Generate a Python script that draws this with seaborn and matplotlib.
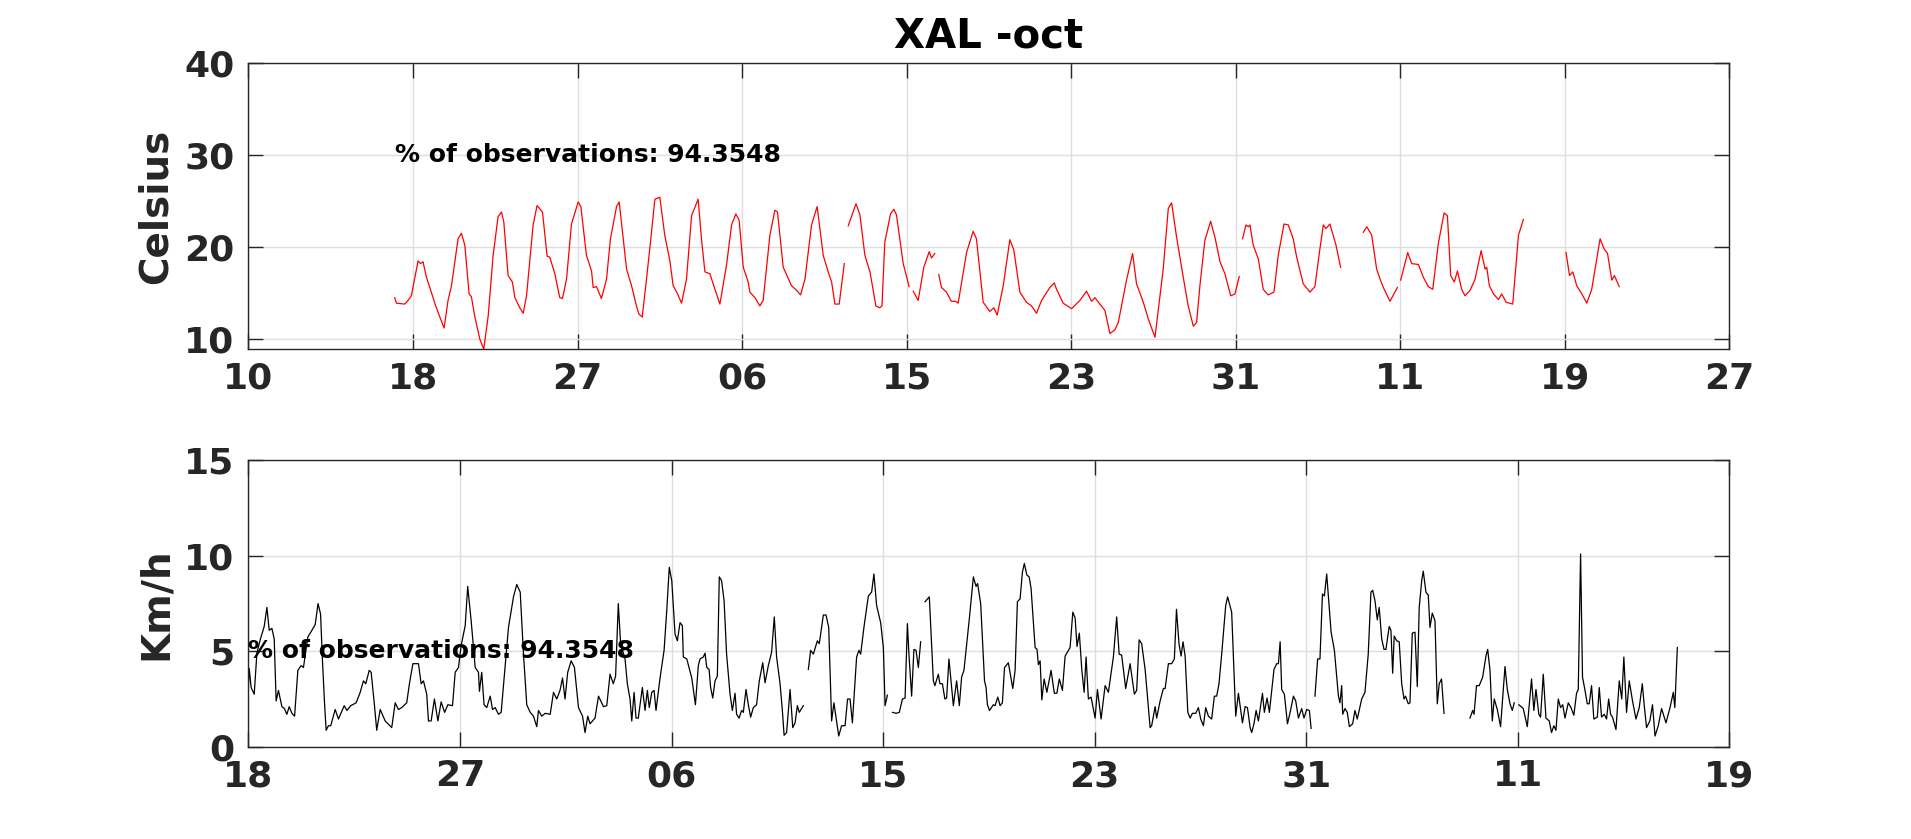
import numpy as np
import pandas as pd
import matplotlib
matplotlib.use('Agg')
import matplotlib.pyplot as plt
import seaborn as sns

TITLE = 'XAL -oct'
OBS_PCT = 94.3548
TEMP_LABEL = 'Celsius'
WIND_LABEL = 'Km/h'

# tick labels as printed under each panel (evenly spaced)
top_tick_labels = ['10', '18', '27', '06', '15', '23', '31', '11', '19', '27']
bottom_tick_labels = ['18', '27', '06', '15', '23', '31', '11', '19']
top_tick_step = 100
bottom_tick_step = 110

# temperature, hours on the top axis; nan = gap in the record
temp_hour = [
    88.9, 89.9, 95, 97, 99, 103.1, 104.5, 106.1, 108.2, 112.2, 113.8, 116.3, 118.9, 121.3, 123.4,
    127.4, 129.4, 131.5, 134.1, 135.5, 137.5, 140.6, 143, 145.7, 148.7, 151.7, 153.8, 155.2, 157.8,
    160.4, 161.9, 164.9, 167, 169, 173, 175.4, 178.7, 181.5, 183.1, 186.2, 189.2, 190.8, 193.3,
    196.3, 200.4, 202, 205.4, 208.5, 209.5, 211.5, 214.5, 217.6, 220, 223.7, 225.3, 229.8, 232.8,
    235.8, 237.3, 239.3, 241.9, 244.3, 247, 250, 253, 256.1, 258.1, 260.8, 263.2, 266.2, 269.3,
    273.3, 275.3, 277.4, 280.4, 283.5, 286.5, 290.5, 293.6, 296.2, 298.2, 300.7, 303.7, 304.7,
    307.8, 310.8, 312.8, 316.9, 319.9, 321.5, 325, 330, 333.1, 335.5, 338.2, 342.2, 345.6, 349.3,
    352.3, 354.4, 356.4, 359, 362.1, np.nan,
    364.5, 369.2, 371.6, 374.6, 377.7, 381.3, 383.6, 385, 386.7, 390.2, 392.2, 393.8, 397.9, 401.5, np.nan,
    404, 407, 410.4, 413.7, 415.1, 417.1, np.nan,
    419.5, 421.2, 424.2, 427.2, 429.9, 431.3, 436.4, 440.4, 442.4, 446.5, 450.5, 453, 455, 458.7,
    462.7, 465.1, 468.8, 472.8, 475.9, 478.9, 482, 487, 489.7, 491.1, 495.1, 500.2, 505.3, 509.3,
    512.4, 514.4, 517.4, 520.5, 523.5, 526.5, 528.6, 533.6, 537.3, 539.7, 543.8, 546.8, 550.9,
    555.9, 559, 561, 564, 568.1, 571.1, 574.2, 576.2, 578.2, 581.2, 584.7, 587.3, 590.4, 593.4,
    596.9, 599.5, 602.1, np.nan,
    604.1, 606.2, 607.6, 608.6, 610.6, 613.7, 616.7, 619.7, 623.2, 625.8, 629.3, 631.9, 634.9, 637,
    641, 645.1, 648.1, 650.8, 653.2, 654.8, 657.2, 660.9, 663.7, np.nan,
    677.5, 679.6, 682.6, 685.6, 687.7, 689.7, 693.7, 698.2, np.nan,
    700.2, 704.5, 706.9, 711, 714, 717, 719.7, 723.1, 726.6, 728.6, 730.6, 732.8, 734.7, 737.3,
    739.3, 742.4, 745.4, 749.1, 751.5, 752.5, 754.1, 756.6, 759.6, 761.6, 764.3, 768.3, 771.8, 774.8, np.nan,
    800.7, 802.8, 804.8, 807.2, 810.3, 813.3, 816.3, 821.4, 823.8, 825.9, 828.5, 830.1, 833,
]
temp_c = [
    14.5, 13.9, 13.8, 14.2, 14.7, 18.5, 18.2, 18.4, 16.7, 14.5, 13.6, 12.4, 11.2, 14.2, 15.8,
    20.9, 21.5, 20.2, 14.9, 14.6, 12.5, 10, 8.9, 12.5, 19.1, 23.3, 23.8, 22.7, 16.9,
    16.2, 14.5, 13.4, 12.8, 14.7, 22.4, 24.5, 23.8, 19, 18.9, 17.1, 14.5, 14.4, 16.5,
    22.5, 24.9, 24.4, 19.1, 17.4, 15.6, 15.7, 14.4, 16.5, 20.9, 24.4, 24.9, 17.6, 15.8,
    13.6, 12.7, 12.4, 16.5, 20.5, 25.2, 25.4, 21.3, 18.5, 15.8, 14.9, 13.9, 16.5, 23.4,
    25.2, 20.9, 17.3, 17.1, 15.4, 13.8, 18, 22.4, 23.6, 22.9, 17.8, 16.2, 15.1,
    14.5, 13.6, 14.2, 21.3, 24, 23.8, 17.8, 15.8, 15.3, 14.8, 16.5, 22.4, 24.4, 19.1,
    17.3, 16.2, 13.8, 13.8, 18.2, np.nan,
    22.3, 24.7, 23.5, 19.1, 17.3, 13.6, 13.4, 13.6, 20.5, 23.6, 24.1, 23.5, 18.2, 15.7, np.nan,
    15.2, 14.2, 17.8, 19.5, 18.8, 19.3, np.nan,
    17, 15.6, 15.1, 14.1, 14.1, 13.9, 19.4, 21.7, 20.9, 14, 13, 13.4, 12.6, 15.8,
    20.8, 19.7, 15.1, 14, 13.6, 12.8, 14.2, 15.6, 16.1, 15.4, 13.9, 13.3, 14.2, 15.2,
    14.1, 14.5, 13.8, 13.1, 10.6, 11, 11.8, 16.4, 19.3, 16, 14, 12.2, 10.2,
    17.6, 24.2, 24.8, 21.1, 16.7, 13.6, 11.4, 11.8, 15.8, 20.7, 22.8, 21.1, 18.4, 17.1,
    14.7, 14.9, 16.8, np.nan,
    20.9, 22.4, 22.2, 22.4, 20.2, 18.7, 15.4, 14.8, 15.1, 19.1, 22.5, 22.4, 20.9, 18.9,
    16, 15.1, 15.7, 19.4, 22.4, 22, 22.5, 20.2, 17.8, np.nan,
    21.6, 22.2, 21.3, 17.6, 16.5, 15.6, 14.1, 15.6, np.nan,
    16.4, 19.4, 18.2, 18.1, 16.7, 15.7, 15.4, 20.4, 23.7, 23.4, 16.9, 16.2, 17.4, 15.4,
    14.7, 15.3, 16.5, 19.6, 17.6, 17.8, 15.8, 14.9, 14.3, 14.9, 14, 13.8, 21.3, 23, np.nan,
    19.4, 16.9, 17.3, 15.8, 14.9, 13.9, 15.4, 20.9, 19.8, 19.3, 16.4, 16.9, 15.7,
]

# wind speed, hours on the bottom axis; nan = gap in the record
wind_hour = [
    0, 0.4, 1.4, 3, 4.4, 6.1, 8.2, 9.6, 10.8, 12.2, 13.4, 14.4, 15.6, 17.4, 18.7, 20, 21.2, 22.6,
    24, 25.7, 27.4, 28.6, 30.9, 33, 34.7, 36.2, 37.5, 38.5, 39.5, 40.4, 41.6, 42.8, 45.1, 46.8,
    49.8, 51.2, 53.2, 56, 58.1, 59.8, 61, 62.8, 63.8, 65.5, 66.7, 68.5, 71.1, 74.5, 76.3, 78,
    79.7, 82.3, 83.7, 85.5, 88.4, 89.8, 91, 92.7, 93.6, 95, 96.7, 98.5, 100.2, 102, 103.7, 106.1,
    107.5, 109.2, 110.6, 112.7, 114, 115.8, 117.9, 119.6, 120.1, 121.3, 122.5, 123.9, 125.7,
    126.9, 128.3, 130, 131.4, 135.2, 137.8, 139.5, 141.3, 143, 144.7, 146.5, 148.2, 149.9,
    150.8, 152.5, 154.3, 156.9, 158.6, 160.3, 162, 163.3, 164.6, 166, 167.8, 169.5, 171.6,
    173.7, 175, 176.4, 177.6, 180.2, 182, 184.6, 186.3, 188, 189.7, 190.9, 192.3, 193.5, 195.8,
    197, 198.4, 199.3, 200.5, 201.5, 202.7, 203.9, 204.8, 206.2, 207.4, 208.4, 209.7, 210.9,
    211.9, 214, 216.1, 217.5, 218.8, 220.1, 221.8, 223, 224.4, 225.6, 226.1, 227.9, 230.5,
    232.4, 233.9, 234.8, 236.5, 237.4, 238.3, 239.5, 240.3, 241.4, 242.6, 243.8, 244.8, 246,
    247.3, 248.6, 250.4, 251.6, 253, 253.8, 255.1, 256.4, 257.3, 258.7, 259.9, 261.1, 262.5,
    264.2, 265.6, 267.4, 268.6, 270.3, 272, 273.4, 274.6, 276.4, 277.6, 278.5, 279.8, 281.6,
    283, 284.2, 285.4, 286.4, 288.5, np.nan,
    291.1, 292.3, 293.7, 295.8, 296.8, 298.9, 300.3, 301.7, 303.2, 304.4, 306.9, 308.4, 310.2,
    311.5, 312.8, 314, 316.2, 317.4, 318.3, 320, 322.3, 324, 325.2, 326.6, 328.7, 330.1, 331,
    332.2, np.nan,
    334.9, 336.7, 338.4, 340, 341.4, 342.6, 343.4, 344.8, 346, 347.1, 348.3, 349.5, np.nan,
    351.8, 354, 356.1, 356.9, 358.7, 359.5, 360.8, 362.1, 363, 364.2, 365.1, 366.5, 368.2,
    369.6, 370.8, 372, 374.8, 376.9, 378.3, 379.1, 380.7, 382.7, 383.5, 384.2, 385.3, 387.3,
    388.2, 389.6, 390.8, 392, 393.1, 395.1, 397.4, 398.6, 399.8, 401.2, 402.4, 403.4, 404.7,
    405.9, 406.9, 409, 410, 410.7, 411.6, 412.5, 413.7, 415.1, 417.3, 419, 420.3, 421.6, 423.2,
    424.6, 427.2, 428.6, 429.8, 430.8, 432, 433.3, 434.5, 435.5, 436.7, 438.1, 440.2, 441.4,
    443.3, 445.4, 447.1, 449.7, 451.4, 452.7, 454, 456.1, 458.4, 460.6, 461.8, 463.1, 464.4,
    466.2, 468.8, 469.6, 471.4, 472.2, 474, 475.7, 476.6, 478.3, 480, 481.4, 482.5, 483.8,
    484.9, 485.9, 487, 488.4, 489.6, 490.8, 492.5, 493.9, 495.1, 496.5, 497.7, 499.1, 500.8,
    502.2, 503.4, 504.6, 506, 508.1, 509.1, 511.2, 513.3, 514.7, 516.8, 518.2, 519.4, 520.8,
    521.6, 522.8, 523.9, 525.1, 527.2, 528.2, 529.6, 530.8, 533.2, 534.6, 535.5, 536.4, 537.2,
    538.6, 540.2, 541.6, 543.3, 544.5, 545.9, 547.6, 548.8, 550.2, 551.6, 552.5, np.nan,
    554.5, 555.9, 557.1, 558.4, 559.4, 560.6, 562.9, 564.6, 566.7, 567.5, 568.4, 568.9, 570.1,
    571.3, 572.4, 574.1, 575.3, 576.5, 578.8, 580.5, 582.2, 583.6, 584.5, 585.7, 586.9, 587.9,
    589.2, 590.4, 591.4, 593.1, 594, 594.9, 595.7, 597, 598.3, 599.6, 600.8, 601.6, 603, 603.9,
    605.1, 606.5, 607.7, 608.7, 610, 610.8, 612.2, 613.4, 614.3, 615.5, 616.9, 618.1, 619.1,
    620.3, 621.6, np.nan,
    635.1, 636.5, 637.2, 638.5, 639.9, 641.7, 643.4, 644.3, 645.5, 646.7, 647.7, 649.3, 651,
    653.3, 654.5, 655.9, 657.1, 658.1, np.nan,
    660.5, 662.8, 664.9, 667.1, 668.3, 669.4, 670.9, 671.8, 673.2, 674.6, 676.3, 677.5, 678.7,
    679.8, 681, 682.2, 683.3, 684.5, 686.2, 687.6, 689.1, 690.5, 691.4, 692.6, 693.6, 694.9,
    696.1, 697.1, 698.3, 699.5, 701.3, 702.3, 703.5, 704.9, 706.1, 707.2, 708.2, 709.2, 711,
    712.7, 714, 715.1, 716.5, 717.9, 719.6, 721.4, 723.1, 724.7, 725.7, 726.9, 728.6, 730,
    731.3, 733, 734.7, 737, 739.1, 740.8, 741.6, 742.9,
]
wind_kmh = [
    3.2, 4.1, 3.1, 2.75, 4.9, 5.6, 6.3, 7.3, 6.1, 6.2, 5.65, 2.4, 2.95, 2.1, 2.0, 1.7, 2.1, 1.75,
    1.6, 4, 4.25, 4.15, 5.75, 6.1, 6.4, 7.5, 6.95, 4.5, 2.4, 0.86, 1.1, 1.1, 1.95, 1.45,
    2.15, 1.9, 2.15, 2.3, 2.85, 3.45, 3.3, 4, 3.9, 2.2, 0.86, 1.95, 1.35, 1.0, 2.3, 1.95,
    2.05, 2.3, 3.3, 4.35, 4.35, 3.3, 3.45, 2.75, 1.35, 1.35, 2.5, 1.35, 2.35, 1.8, 2.2, 2.15,
    3.9, 4.15, 5.3, 6.35, 8.4, 6.6, 4.15, 3.9, 2.9, 3.9, 2.2, 2.05, 2.65,
    1.95, 2.05, 1.7, 1.8, 6.25, 7.85, 8.5, 8.1, 4.85, 2.2, 1.8, 1.6, 1.05,
    1.9, 1.6, 1.75, 1.7, 2.85, 2.5, 2.95, 3.6, 2.5, 3.9, 4.5, 4.15, 2.05,
    1.6, 0.74, 1.6, 1.2, 1.5, 2.65, 2.1, 2.15, 3.8, 3.3, 3.7, 7.5, 5.4, 4.6,
    3.3, 2.5, 1.35, 2.85, 1.5, 1.5, 2.4, 3.1, 1.9, 2.95, 2.05, 2.85, 2.95,
    1.9, 3.6, 5.05, 7.15, 9.4, 8.7, 5.9, 5.55, 6.5, 6.35, 4.7, 4.6, 3.6,
    2.2, 4.25, 4.6, 4.7, 4.9, 4.15, 4.05, 3.1, 2.55, 3.45, 3.7, 8.9, 8.7,
    7.65, 4.85, 2.75, 1.9, 2.8, 1.7, 1.5, 1.9, 1.8, 3, 2.2, 1.55, 2.05,
    2.2, 3.45, 4.4, 3.35, 4.25, 4.95, 6.8, 4.7, 3.3, 1.9, 0.6, 0.74, 3.0,
    1.0, 1.25, 2.15, 1.8, 2.15, np.nan,
    4.05, 5.05, 4.85, 5.55, 5.4, 6.9, 6.9, 6.25, 1.35, 2.3, 0.56, 1.1, 1.1,
    2.5, 2.5, 1.25, 4.7, 5.05, 4.85, 6.25, 7.9, 8.1, 9.05, 7.4, 6.5, 5.2, 2.15,
    2.7, np.nan,
    1.8, 1.75, 1.8, 2.5, 2.55, 6.45, 4.85, 2.65, 5.1, 5.05, 4.15, 5.5, np.nan,
    7.6, 7.85, 3.45, 3.2, 3.8, 3.3, 3.3, 2.5, 2.55, 4.6, 3.65, 2.15, 3.45,
    2.15, 3.65, 4, 6.7, 8.9, 8.4, 8.55, 7.5, 3.45, 3.1, 2.2, 1.9, 2.2,
    2.15, 2.6, 2.15, 2.3, 4.15, 4.4, 3.05, 4, 7.6, 7.75, 9.15, 9.6, 9,
    8.9, 8.3, 5.2, 5.1, 4.3, 4.5, 2.45, 3.55, 2.85, 4.0, 2.8, 2.8, 3.55, 2.95,
    4.75, 5.2, 7.05, 6.75, 5.25, 5.95, 4.0, 2.85, 4.7, 2.5, 2.6, 1.5, 3.0,
    1.45, 3.2, 2.85, 4.7, 6.8, 4.85, 4.8, 3.05, 4.35, 2.75, 2.95, 5.6, 5.4,
    4.05, 1.0, 1.1, 2.1, 1.5, 2.4, 3.05, 3.05, 4.35, 4.35, 4.6, 7.2, 5.4,
    4.75, 5.5, 4.75, 1.8, 1.5, 1.75, 1.75, 2.05, 1.45, 1.1, 2.05, 1.6, 1.45,
    2.65, 2.65, 3.3, 4.85, 7.4, 7.85, 7.05, 1.6, 2.8, 1.25, 2.1, 2.05, 1.0,
    0.74, 1.2, 1.9, 1.35, 2.8, 1.8, 2.55, 1.8, 4.05, 4.35, 4.35, 5.5, 3.0,
    2.75, 1.2, 1.8, 2.65, 2.4, 1.5, 2.0, 1.5, 1.95, 1.9, 0.96, np.nan,
    2.65, 4.6, 4.6, 8.0, 7.9, 9.05, 6.0, 5.05, 2.65, 2.3, 3.2, 1.7, 2.0,
    1.8, 1.05, 1.2, 1.9, 1.45, 2.5, 2.85, 4.85, 8.1, 8.2, 7.65, 6.65, 7.3,
    5.65, 5.1, 5.1, 6.3, 6.1, 3.85, 5.8, 5.55, 5.5, 3.3, 2.5, 2.65, 2.25, 2.3,
    5.95, 6.0, 3.15, 7.3, 8.7, 9.2, 8.1, 7.95, 6.25, 7.0, 6.6, 2.25, 3.3,
    3.55, 1.75, np.nan,
    1.5, 1.9, 1.7, 3.2, 3.2, 3.65, 4.75, 5.1, 4.0, 1.35, 2.5, 1.95, 1.05,
    4.2, 3.0, 2.25, 1.9, 2.3, np.nan,
    2.2, 2.0, 1.05, 3.55, 1.9, 3.0, 1.7, 1.55, 3.8, 1.5, 1.35, 0.74, 1.1,
    0.86, 2.5, 2.05, 2.2, 1.5, 2.3, 2.05, 1.65, 2.8, 3.0, 10.1, 3.65, 2.95,
    2.25, 2.25, 3.2, 1.45, 1.55, 3.1, 1.55, 1.7, 1.45, 2.5, 1.7, 1.55, 0.9,
    3.45, 2.5, 4.7, 1.8, 3.45, 2.4, 1.45, 2.05, 3.3, 2.15, 1.0, 1.35, 2.2,
    0.56, 1.1, 2.0, 1.25, 2.05, 2.85, 2.05, 5.2,
]


def to_frame(hours, vals):
    df = pd.DataFrame({'hour': hours, 'val': vals})
    df['seg'] = df['val'].isna().cumsum()
    return df.dropna()


def style_axes(ax, tick_labels, step, ylim, yticks, ylabel):
    ticks = np.arange(len(tick_labels)) * step
    ax.set_xlim(ticks[0], ticks[-1])
    ax.set_xticks(ticks)
    ax.set_xticklabels(tick_labels)
    ax.set_ylim(*ylim)
    ax.set_yticks(yticks)
    ax.grid(True, color='#dedede', lw=1)
    ax.set_axisbelow(True)
    ax.tick_params(direction='in', length=11, width=1, top=True, right=True,
                   labelsize=26, colors='#262626')
    ax.tick_params(axis='x', pad=9)
    ax.tick_params(axis='y', pad=10)
    for lab in ax.get_xticklabels() + ax.get_yticklabels():
        lab.set_fontweight('bold')
    for sp in ax.spines.values():
        sp.set_color('#262626')
        sp.set_linewidth(1)
    ax.set_xlabel('')
    ax.set_ylabel(ylabel, fontsize=28, fontweight='bold', color='#262626')
    ax.yaxis.set_label_coords(-0.05, 0.5)


plt.rcParams['font.family'] = ['DejaVu Sans']

temp = to_frame(temp_hour, temp_c)
wind = to_frame(wind_hour, wind_kmh)

fig = plt.figure(figsize=(19.11, 8.39), dpi=100)
ax1 = fig.add_axes([0.13, 0.5838, 0.775, 0.3412])
ax2 = fig.add_axes([0.13, 0.11, 0.775, 0.3412])

sns.lineplot(data=temp, x='hour', y='val', units='seg', estimator=None,
             color='red', lw=0.9, legend=False, ax=ax1)
sns.lineplot(data=wind, x='hour', y='val', units='seg', estimator=None,
             color='black', lw=0.9, legend=False, ax=ax2)

style_axes(ax1, top_tick_labels, top_tick_step, (8.9, 40), [10, 20, 30, 40], TEMP_LABEL)
style_axes(ax2, bottom_tick_labels, bottom_tick_step, (0, 15), [0, 5, 10, 15], WIND_LABEL)

obs_text = f'% of observations: {OBS_PCT}'
ax1.text(temp_hour[0], 30, obs_text, fontsize=18, fontweight='bold', va='center', zorder=5)
ax2.text(wind_hour[0], 5, obs_text, fontsize=18, fontweight='bold', va='center', zorder=5)

ax1.set_title(TITLE, fontsize=29, fontweight='bold', pad=11)

fig.savefig('out.png', dpi=100)
